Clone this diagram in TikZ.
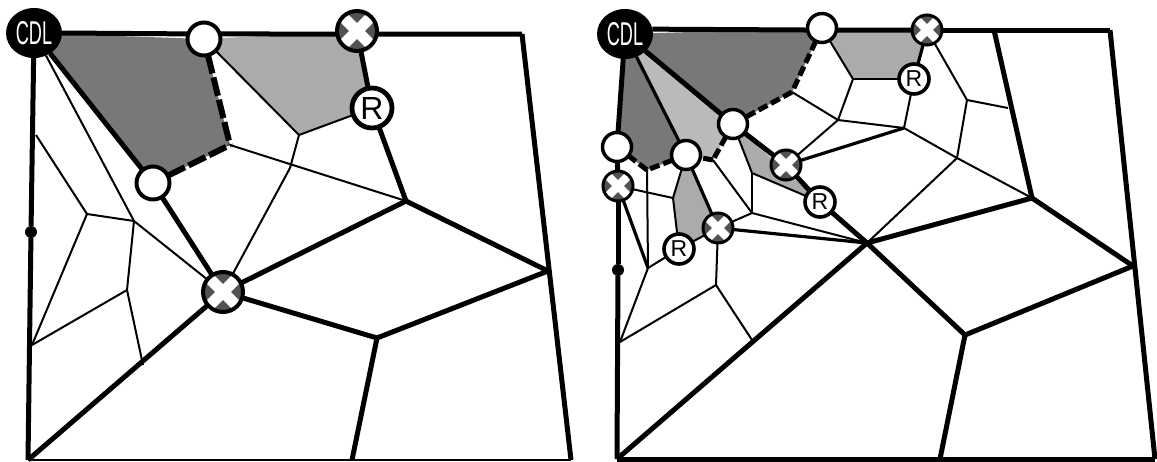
\documentclass[tikz,border=0pt]{standalone}
\usepackage{graphicx}
\usepackage{fontspec}
\setmainfont{Liberation Sans}
\usetikzlibrary{shapes.geometric,backgrounds}

\tikzset{
  thickedge/.style={line width=5pt},
  midedge/.style={line width=3.2pt},
  thinedge/.style={line width=2pt},
  cutedge/.style={line width=6pt, dash pattern=on 19pt off 4pt},
  cutedgesmall/.style={line width=5pt, dash pattern=on 10pt off 4pt},
  cdlnode/.style={ellipse, fill=black, text=white, minimum width=56pt, minimum height=50pt, inner sep=0pt, outer sep=0pt},
  opennode/.style={circle, draw, fill=white, line width=#1*0.12, minimum size=#1, inner sep=0pt, outer sep=0pt},
  bigrnode/.style={opennode=40pt, font=\fontsize{32}{32}\selectfont},
  smallrnode/.style={opennode=30pt, font=\fontsize{23}{23}\selectfont},
  xnode/.style={circle, draw, fill=black!68, line width=#1*0.1, minimum size=#1, inner sep=0pt, outer sep=0pt,
    path picture={
      \draw[white, line width=#1*0.28]
        (path picture bounding box.south west) -- (path picture bounding box.north east)
        (path picture bounding box.north west) -- (path picture bounding box.south east);
    }},
  dotnode/.style={circle, fill=black, minimum size=12pt, inner sep=0pt, outer sep=0pt},
}

\newcommand{\cdltext}{\fontsize{33}{33}\selectfont\scalebox{.55}[1]{CDL}}

\begin{document}
\begin{tikzpicture}[x=1pt, y=-1pt]
  \useasboundingbox (0,0) rectangle (1157,461);

  % left mesh
  \node[cdlnode] (lcdl) at (34,33) {\cdltext};
  \node[opennode=33pt] (la) at (204,39) {};
  \node[xnode=40pt] (lb) at (357,31) {};
  \node[bigrnode] (lr) at (372,108) {R};
  \node[opennode=33pt] (lc) at (153,183) {};
  \node[xnode=40pt] (ld) at (223,292) {};
  \node[dotnode] (ldot) at (31,232) {};

  \foreach \name/\x/\y in {ltr/522/34, lbr/571/460, lbl/28/460, lbm/352/460,
      le/406/201, lf/548/271, lg/377/338, lh/230/145, li/299/135, lj/290/168,
      lk/87/214, ll/134/221, lm/127/290, ln/32/345, lo/143/365, lp/36/135}
    \coordinate (\name) at (\x,\y);

  \begin{scope}[on background layer]
    \fill[black!53] (lcdl.center) -- (la.center) -- (lh) -- (lc.center) -- cycle;
    \fill[black!33] (la.center) -- (lb.center) -- (lr.center) -- (li) -- cycle;
  \end{scope}

  \draw[thickedge] (lcdl.east) -- (la.162);
  \draw[thickedge] (la.18) -- (lb.189);
  \draw[thickedge] (lb.-9) -- (ltr);
  \foreach \a/\b in {ltr/lbr, lcdl/ldot, ldot/lbl, lcdl/lc, lc/ld, lb/lr, lr/le, ld/le, le/lf, ld/lg, lg/lf, lg/lbm, ld/lbl}
    \draw[thickedge] (\a) -- (\b);
  \draw[thinedge] (lbl) -- (lbr);
  \foreach \a/\b in {la/li, li/lr, li/lj, lj/ld, lh/le, lcdl/ll, ll/ld, lp/lk, lk/ll, lk/ln, ll/lm, lm/ln, lm/lo}
    \draw[thinedge] (\a) -- (\b);
  \draw[cutedge] (la) -- (lh);
  \draw[cutedge] (lc) -- (lh);

  % right mesh
  \node[cdlnode] (rcdl) at (625,34) {\cdltext};
  \node[opennode=29pt] (ra) at (822,28) {};
  \node[opennode=29pt] (rb) at (733,124) {};
  \node[opennode=29pt] (rc) at (617,147) {};
  \node[opennode=29pt] (rd) at (686,155) {};
  \node[xnode=30pt] (re) at (927,30) {};
  \node[xnode=30pt] (rf) at (618,186) {};
  \node[xnode=30pt] (rg) at (786,165) {};
  \node[xnode=30pt] (rh) at (718,228) {};
  \node[smallrnode] (ri) at (914,79) {R};
  \node[smallrnode] (rj) at (820,202) {R};
  \node[smallrnode] (rk) at (679,249) {R};
  \node[dotnode] (rdot) at (618,270) {};

  \foreach \name/\x/\y in {rtr/1110/30, rbr/1155/459, rbl/617/459, rtm/994/30,
      rm/867/243, rn/1032/198, ro/1133/266, rp/965/335, rq/940/459,
      rs/792/92, rt/853/79, ru/838/120, rv/904/128, rw/967/100, rx/1008/108, ry/957/158,
      rz/752/213, raa/752/173, rab/713/160, rac/673/198, rad/647/170, rae/648/268,
      raf/716/285, rag/620/342, rah/752/340}
    \coordinate (\name) at (\x,\y);

  \begin{scope}[on background layer]
    \fill[black!53] (rcdl.center) -- (ra.center) -- (rs) -- (rb.center) -- cycle;
    \fill[black!27] (rcdl.center) -- (rb.center) -- (rab) -- (rd.center) -- cycle;
    \fill[black!53] (rcdl.center) -- (rd.center) -- (rad) -- (rc.center) -- cycle;
    \fill[black!33] (ra.center) -- (re.center) -- (ri.center) -- (rt) -- cycle;
    \fill[black!33] (rb.center) -- (rj.center) -- (raa) -- cycle;
    \fill[black!33] (rd.center) -- (rh.center) -- (rk.center) -- (rac) -- cycle;
  \end{scope}

  \draw[thickedge] (rcdl.10) -- (ra.188);
  \draw[thickedge] (ra.-8) -- (re);
  \foreach \a/\b in {re/rtr, rtr/rbr, rbl/rbr, rcdl/rc, rc/rf, rf/rdot, rdot/rbl,
      rcdl/rb, rb/rg, rg/rj, rj/rm, rbl/rm, rm/rn, rn/ro, rm/rp, rp/ro, rp/rq, rtm/rn}
    \draw[thickedge] (\a) -- (\b);
  \foreach \a/\b in {re/ri, rd/rh, rg/rv, rf/rae, rh/rm, rcdl/rd}
    \draw[midedge] (\a) -- (\b);
  \foreach \a/\b in {ra/rt, rt/ri, ri/rv, rt/ru, ru/rs, ru/rg, ru/rv, re/rw, rw/rx, rw/ry, rv/ry, ry/rn, ry/rm,
      rb/raa, raa/rj, raa/rz, rab/rz, rz/rh, rz/rm, rad/rae, rf/rac, rac/rd, rac/rk, rk/rae, rk/rh,
      rae/rag, rh/raf, raf/rag, raf/rah}
    \draw[thinedge] (\a) -- (\b);
  \foreach \a/\b in {ra/rs, rs/rb, rb/rab, rab/rd, rd/rad, rad/rc}
    \draw[cutedgesmall] (\a) -- (\b);
\end{tikzpicture}
\end{document}
